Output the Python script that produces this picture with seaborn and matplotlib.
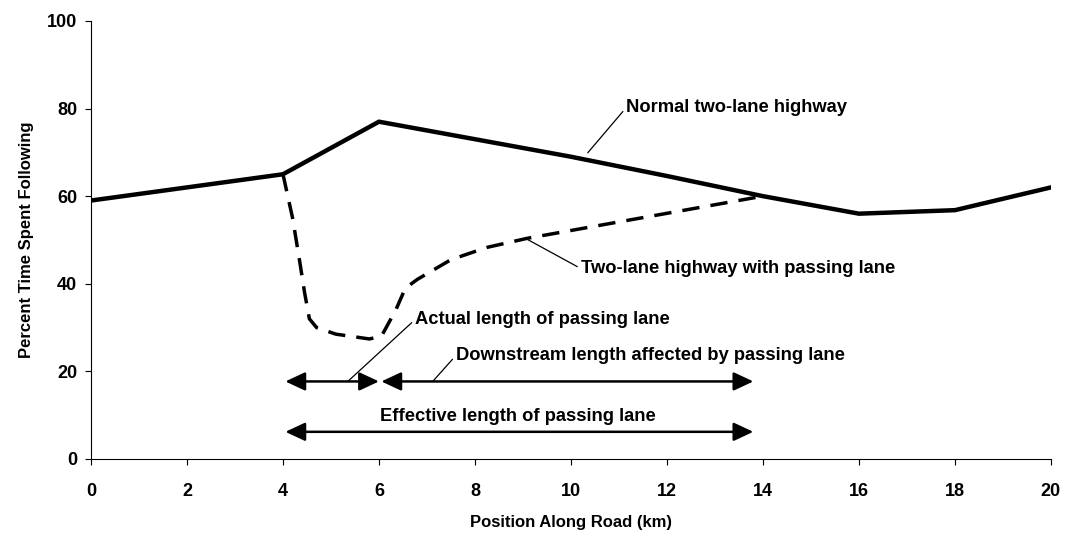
import numpy as np
import pandas as pd
import seaborn as sns
import matplotlib.pyplot as plt

# Data
pos_normal = [0, 4, 6, 8, 10, 12, 14, 16, 18, 20]
ptsf_normal = [59, 65, 77, 73, 69, 64.6, 60, 56, 56.8, 62]

pos_passing = [4, 4.2, 4.35, 4.45, 4.55, 4.7, 5.1, 5.8, 6.05, 6.35, 6.55, 6.8, 7.5, 8.25, 9.1, 14]
ptsf_passing = [65, 55, 45, 38, 32, 30, 28.5, 27.4, 28, 34, 39, 41, 45.5, 48.3, 50.4, 60]

# arrow spans (km) and their heights
actual_span = [4.05, 6.0]
downstream_span = [6.05, 13.8]
effective_span = [4.05, 13.8]
arrow_y_top = 17.7
arrow_y_bottom = 6.2

sns.set_style("ticks", {'axes.edgecolor': 'black', 'xtick.color': 'black',
                        'ytick.color': 'black', 'text.color': 'black',
                        'axes.labelcolor': 'black'})
plt.rcParams['font.family'] = ['Liberation Sans', 'DejaVu Sans']

fig = plt.figure(figsize=(10.68, 5.37), dpi=100)
ax = fig.add_axes([0.0852, 0.1453, 0.8988, 0.8157])

df_n = pd.DataFrame({'x': pos_normal, 'y': ptsf_normal})
df_p = pd.DataFrame({'x': pos_passing, 'y': ptsf_passing})
sns.lineplot(data=df_n, x='x', y='y', ax=ax, color='black', lw=3.2, sort=False)
sns.lineplot(data=df_p, x='x', y='y', ax=ax, color='black', lw=2.5, sort=False)
ax.lines[-1].set_dashes([5, 3.2])

ax.set_xlim(0, 20)
ax.set_ylim(0, 100)
ax.set_xticks(np.arange(0, 21, 2))
ax.set_yticks(np.arange(0, 101, 20))
sns.despine(ax=ax)
ax.tick_params(labelsize=13, length=4, width=0.8, pad=13)
ax.tick_params(axis='y', pad=6)
for lab in ax.get_xticklabels() + ax.get_yticklabels():
    lab.set_fontweight('bold')
ax.set_xlabel('Position Along Road (km)', fontsize=12, fontweight='bold', labelpad=11)
ax.set_ylabel('Percent Time Spent Following', fontsize=12, fontweight='bold', labelpad=9)

arrow = dict(arrowstyle='<|-|>,head_length=0.6,head_width=0.28', mutation_scale=20,
             color='black', lw=1.8, shrinkA=0, shrinkB=0)
for span, yy in [(actual_span, arrow_y_top), (downstream_span, arrow_y_top),
                 (effective_span, arrow_y_bottom)]:
    ax.annotate('', xy=(span[1], yy), xytext=(span[0], yy), arrowprops=arrow)

lead = dict(arrowstyle='-', color='black', lw=0.9, shrinkA=0, shrinkB=0, relpos=(0, 0.5))
txt = dict(fontsize=13.2, fontweight='bold', va='center', color='black')
ax.annotate('Normal two-lane highway', xy=(10.35, 69.9), xytext=(11.15, 80.2),
            arrowprops=lead, ha='left', **txt)
ax.annotate('Two-lane highway with passing lane', xy=(9.08, 50.2), xytext=(10.2, 43.5),
            arrowprops=lead, ha='left', **txt)
ax.annotate('Actual length of passing lane', xy=(5.35, arrow_y_top), xytext=(6.75, 31.8),
            arrowprops=lead, ha='left', **txt)
ax.annotate('Downstream length affected by passing lane', xy=(7.12, arrow_y_top),
            xytext=(7.6, 23.6), arrowprops=lead, ha='left', **txt)
ax.text(8.9, 9.6, 'Effective length of passing lane', ha='center', **txt)

fig.savefig('out.png', dpi=100)
